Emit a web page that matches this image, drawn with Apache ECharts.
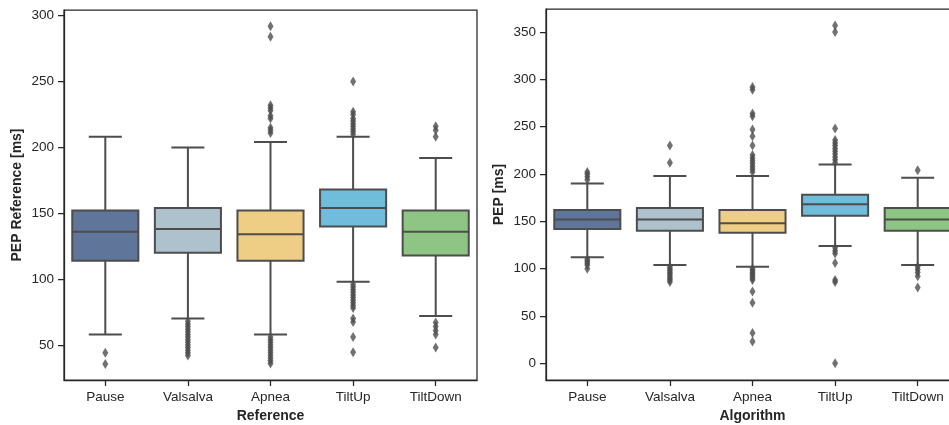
<!DOCTYPE html>
<html>
<head>
<meta charset="utf-8">
<script src="https://cdn.jsdelivr.net/npm/echarts@6/dist/echarts.min.js"></script>
<style>
  html, body { margin: 0; padding: 0; background: #fff; overflow: hidden; }
  #chart { width: 970px; height: 425px; }
</style>
</head>
<body>
<div id="chart"></div>
<script>
// categories and colours
var categories = ['Pause', 'Valsalva', 'Apnea', 'TiltUp', 'TiltDown'];
var boxColors = ['#5f7599', '#adc2cc', '#eecd84', '#6fbcdb', '#8ec584'];
var yTicksRef = [50, 100, 150, 200, 250, 300];
var yTicksAlg = [0, 50, 100, 150, 200, 250, 300, 350];

// box stats: [lower whisker, Q1, median, Q3, upper whisker]
var refStats = [
  [58, 114, 136, 152, 208],
  [70, 120, 138, 154, 200],
  [58, 114, 134, 152, 204],
  [98, 140, 154, 168, 208],
  [72, 118, 136, 152, 192]
];
var refOutliers = [
  [44, 35.5],
  [68, 66, 64, 62, 60, 58, 56, 54, 52, 50, 48, 46, 44, 42],
  [292, 284, 232, 230, 228, 224, 222, 215, 213, 211, 56, 54, 52, 50, 48, 46, 44, 42, 40, 38, 36],
  [250, 227, 225, 222, 220, 218, 216, 214, 212, 210, 96, 94, 92, 90, 88, 86, 84, 82, 80, 78, 70, 67.5, 56, 44.5],
  [216, 213, 208, 67, 64, 61, 58, 48]
];

var algStats = [
  [112, 142, 152, 162, 190],
  [104, 140, 152, 164, 198],
  [102, 138, 148, 162, 198],
  [124, 156, 168, 178, 210],
  [104, 140, 152, 164, 196]
];
var algOutliers = [
  [202, 200, 197, 194, 110, 108, 106, 104, 100],
  [230, 212, 102, 100, 98, 96, 94, 92, 90, 88, 86],
  [292, 289, 264, 261, 247, 240, 230, 220, 217, 214, 211, 208, 205, 202, 100, 98, 96, 94, 92, 90, 88, 76, 64, 32, 23],
  [357, 350, 248, 236, 233, 230, 227, 224, 221, 218, 215, 212, 122, 119, 116, 106, 88, 86, 0],
  [204, 102, 99, 96, 92, 80]
];

var ink = '#262626';
var lineGray = '#4d4d4d';
var font = "'Liberation Sans', Arial, sans-serif";

function boxData(stats) {
  return stats.map(function (s, i) { return [i].concat(s); });
}
function outlierData(outs) {
  var res = [];
  outs.forEach(function (list, i) {
    list.forEach(function (v) { res.push([i, v]); });
  });
  return res;
}

function renderBox(params, api) {
  var i = api.value(0);
  var band = api.size([1, 0])[0];
  var half = band * 0.4;
  var cap = half / 2;
  var pMin = api.coord([i, api.value(1)]);
  var pQ1 = api.coord([i, api.value(2)]);
  var pMed = api.coord([i, api.value(3)]);
  var pQ3 = api.coord([i, api.value(4)]);
  var pMax = api.coord([i, api.value(5)]);
  var x = pMed[0];
  var ls = { stroke: lineGray, lineWidth: 2 };
  return {
    type: 'group',
    children: [
      { type: 'line', shape: { x1: x, y1: pQ3[1], x2: x, y2: pMax[1] }, style: ls },
      { type: 'line', shape: { x1: x, y1: pQ1[1], x2: x, y2: pMin[1] }, style: ls },
      { type: 'line', shape: { x1: x - cap, y1: pMax[1], x2: x + cap, y2: pMax[1] }, style: ls },
      { type: 'line', shape: { x1: x - cap, y1: pMin[1], x2: x + cap, y2: pMin[1] }, style: ls },
      { type: 'rect', shape: { x: x - half, y: pQ3[1], width: half * 2, height: pQ1[1] - pQ3[1] },
        style: { fill: boxColors[i], stroke: lineGray, lineWidth: 2 } },
      { type: 'line', shape: { x1: x - half, y1: pMed[1], x2: x + half, y2: pMed[1] }, style: ls }
    ]
  };
}

function xAxisFor(gridIndex, name) {
  return {
    type: 'category', gridIndex: gridIndex, data: categories,
    name: name, nameLocation: 'middle', nameGap: 28,
    nameTextStyle: { fontFamily: font, fontSize: 14, fontWeight: 'bold', color: ink },
    axisLine: { show: true, onZero: false, lineStyle: { color: ink, width: 1.25 } },
    axisTick: { show: true, alignWithLabel: true, length: 6, lineStyle: { color: ink, width: 1.25 } },
    axisLabel: { fontFamily: font, fontSize: 13.5, color: ink, margin: 10 },
    splitLine: { show: false }
  };
}
function yAxisFor(gridIndex, name, min, max, ticks) {
  return {
    type: 'value', gridIndex: gridIndex, min: min, max: max,
    name: name, nameLocation: 'middle', nameGap: 40,
    nameTextStyle: { fontFamily: font, fontSize: 14, fontWeight: 'bold', color: ink },
    axisLine: { show: true, onZero: false, lineStyle: { color: ink, width: 1.25 } },
    axisTick: { show: true, length: 6, customValues: ticks, lineStyle: { color: ink, width: 1.25 } },
    axisLabel: { fontFamily: font, fontSize: 13.5, color: ink, margin: 10, customValues: ticks },
    splitLine: { show: false }
  };
}

var chart = echarts.init(document.getElementById('chart'), null, { renderer: 'canvas' });
chart.setOption({
  animation: false,
  backgroundColor: '#fff',
  grid: [
    { left: 64, top: 10, width: 413, height: 370, outerBoundsMode: 'none', containLabel: false,
      show: true, borderColor: ink, borderWidth: 1.25 },
    { left: 546, top: 9, width: 413, height: 371, outerBoundsMode: 'none', containLabel: false,
      show: true, borderColor: ink, borderWidth: 1.25 }
  ],
  xAxis: [xAxisFor(0, 'Reference'), xAxisFor(1, 'Algorithm')],
  yAxis: [
    yAxisFor(0, 'PEP Reference [ms]', 23.4, 304.3, yTicksRef),
    yAxisFor(1, 'PEP [ms]', -17.6, 374.3, yTicksAlg)
  ],
  series: [
    { type: 'custom', xAxisIndex: 0, yAxisIndex: 0, renderItem: renderBox,
      encode: { x: 0, y: [1, 2, 3, 4, 5] }, data: boxData(refStats), z: 2 },
    { type: 'scatter', xAxisIndex: 0, yAxisIndex: 0, symbol: 'diamond', symbolSize: [6, 10],
      itemStyle: { color: lineGray }, data: outlierData(refOutliers), z: 3 },
    { type: 'custom', xAxisIndex: 1, yAxisIndex: 1, renderItem: renderBox,
      encode: { x: 0, y: [1, 2, 3, 4, 5] }, data: boxData(algStats), z: 2 },
    { type: 'scatter', xAxisIndex: 1, yAxisIndex: 1, symbol: 'diamond', symbolSize: [6, 10],
      itemStyle: { color: lineGray }, data: outlierData(algOutliers), z: 3 }
  ]
});
</script>
</body>
</html>
